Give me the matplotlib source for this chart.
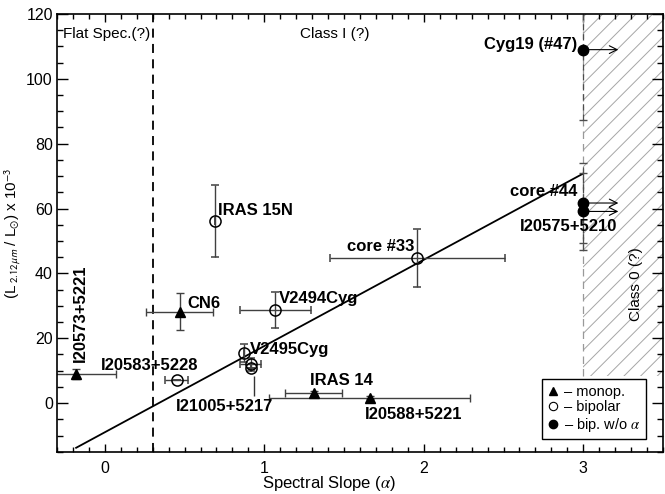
import numpy as np
import matplotlib
matplotlib.use("Agg")
import matplotlib.pyplot as plt
from matplotlib.lines import Line2D
from matplotlib.ticker import MultipleLocator

plt.rcParams['font.family'] = ['Liberation Sans', 'DejaVu Sans']
plt.rcParams['font.size'] = 11
plt.rcParams['hatch.linewidth'] = 0.7
plt.rcParams['hatch.color'] = '0.65'

# fuentes monopolares (triangulos)
mono_names = ['I20573+5221', 'CN6', 'IRAS 14', 'I20588+5221']
mono_alpha = [-0.18, 0.47, 1.31, 1.66]
mono_lum = [9.0, 28.2, 3.1, 1.7]
mono_aerr = [0.25, 0.21, 0.18, 0.63]
mono_lerr = [1.5, 5.7, 0.6, 0.5]

# fuentes bipolares (circulos abiertos)
bip_names = ['I20583+5228', 'IRAS 15N', 'V2494Cyg', 'V2495Cyg', 'I21005+5217', '', 'core #33']
bip_alpha = [0.45, 0.69, 1.07, 0.87, 0.915, 0.915, 1.96]
bip_lum = [7.0, 56.1, 28.7, 15.5, 11.9, 10.7, 44.7]
bip_aerr = [0.07, 0.0, 0.22, 0.0, 0.065, 0.0, 0.55]
bip_lerr = [0.0, 11.2, 5.7, 2.8, 2.0, 0.0, 9.0]

# bipolares sin alpha (limite inferior alpha >= 3)
nal_names = ['Cyg19 (#47)', 'core #44', 'I20575+5210']
nal_alpha = [3.0, 3.0, 3.0]
nal_lum = [109.0, 61.7, 59.1]
nal_lerr = [21.6, 12.2, 11.8]

# ajuste lineal
fit_slope = 26.6
fit_intercept = -9.0
fit_range = [-0.18, 3.0]

fig = plt.figure(figsize=(6.65, 4.94), dpi=100)
ax = fig.add_axes([0.0857, 0.0856, 0.9113, 0.8861])

ax.set_xlim(-0.3, 3.5)
ax.set_ylim(-15, 120)

# zona Class 0 rayada
ax.fill_betweenx([8.5, 120], 3.0, 3.5, facecolor='none', edgecolor='0.65',
                 hatch='//', linewidth=0)
ax.plot([3.0, 3.0], [8.5, 120], color='0.6', lw=0.9, dashes=(6, 4))

# limite flat spectrum / class I
ax.axvline(0.3, color='black', lw=1.3, dashes=(5, 3.5))

xf = np.array(fit_range)
ax.plot(xf, fit_slope * xf + fit_intercept, color='black', lw=1.3)

ax.errorbar(mono_alpha, mono_lum, xerr=mono_aerr, yerr=mono_lerr, fmt='^',
            color='black', ms=7, ecolor='0.25', elinewidth=1, capsize=3, capthick=1)
ax.errorbar(bip_alpha, bip_lum, xerr=bip_aerr, yerr=bip_lerr, fmt='o',
            mfc='none', mec='black', mew=1.1, ms=8, ecolor='0.25',
            elinewidth=1, capsize=3, capthick=1)
eb = ax.errorbar(nal_alpha, nal_lum, yerr=nal_lerr, fmt='o', color='black', ms=7.5,
                 ecolor='0.3', elinewidth=0.9, capsize=3, capthick=1)
eb[2][0].set_linestyle((0, (5, 3)))

for y in nal_lum:
    ax.annotate('', xy=(3.22, y), xytext=(3.0, y),
                arrowprops=dict(arrowstyle='->', lw=0.8, color='black',
                                shrinkA=0, shrinkB=0, mutation_scale=14))

bold = dict(fontsize=12, fontweight='bold')
ax.text(-0.153, 27.8, mono_names[0], rotation=90, ha='center', va='center', **bold)
ax.text(0.515, 30.7, mono_names[1], ha='left', va='center', **bold)
ax.text(1.485, 7.0, mono_names[2], ha='center', va='center', **bold)
ax.text(1.935, -3.5, mono_names[3], ha='center', va='center', **bold)
ax.text(0.28, 11.6, bip_names[0], ha='center', va='center', **bold)
ax.text(0.71, 59.3, bip_names[1], ha='left', va='center', **bold)
ax.text(1.09, 32.2, bip_names[2], ha='left', va='center', **bold)
ax.text(0.91, 16.5, bip_names[3], ha='left', va='center', **bold)
ax.text(0.75, -1.2, bip_names[4], ha='center', va='center', **bold)
# linea guia hacia I21005+5217
ax.vlines(bip_alpha[4] + 0.02, 2.3, bip_lum[5] - 2.5, color='0.2', lw=1)
ax.text(1.94, 48.2, bip_names[6], ha='right', va='center', **bold)
ax.text(2.96, 110.7, nal_names[0], ha='right', va='center', **bold)
ax.text(2.96, 65.2, nal_names[1], ha='right', va='center', **bold)
ax.text(2.91, 54.4, nal_names[2], ha='center', va='center', **bold)

ax.text(-0.26, 113.7, 'Flat Spec.(?)', ha='left', va='center', fontsize=11)
ax.text(1.44, 113.7, 'Class I (?)', ha='center', va='center', fontsize=11)
ax.text(3.33, 36.8, 'Class 0 (?)', rotation=90, ha='center', va='center', fontsize=11)

ax.set_xlabel(r'Spectral Slope ($\alpha$)', fontsize=12, math_fontfamily='stix')
ax.xaxis.set_label_coords(0.449, -0.052)
ax.set_ylabel(r'(L$_{\ 2.12 \mu m}$ / L$_{\odot}$) x 10$^{-3}$', fontsize=11,
              math_fontfamily='stixsans', labelpad=2)

ax.xaxis.set_major_locator(MultipleLocator(1))
ax.xaxis.set_minor_locator(MultipleLocator(0.1))
ax.yaxis.set_major_locator(MultipleLocator(20))
ax.yaxis.set_minor_locator(MultipleLocator(5))
ax.tick_params(which='both', direction='in', top=True, right=True, labelsize=11.5)
ax.tick_params(axis='x', which='major', length=6, width=1, pad=7)
ax.tick_params(axis='x', which='minor', length=3.5, width=1)
ax.tick_params(axis='y', which='major', length=8, width=1, pad=3)
ax.tick_params(axis='y', which='minor', length=4.5, width=1)
for s in ax.spines.values():
    s.set_linewidth(1.2)

handles = [
    Line2D([], [], marker='^', color='black', ls='none', ms=5.5),
    Line2D([], [], marker='o', mfc='white', mec='black', ls='none', ms=6, mew=0.8),
    Line2D([], [], marker='o', color='black', ls='none', ms=6),
]
labels = ['– monop.', '– bipolar', r'– bip. w/o $\alpha$']
leg = ax.legend(handles, labels, loc='lower right', bbox_to_anchor=(0.972, 0.028),
                fontsize=10.5, frameon=True, fancybox=False, edgecolor='black',
                framealpha=1, handlelength=0.8, handletextpad=0.3,
                labelspacing=0.1, borderpad=0.4, borderaxespad=0)
leg.get_frame().set_linewidth(1)
for t in leg.get_texts():
    t.set_math_fontfamily('stix')

fig.savefig('out.png', dpi=100)
